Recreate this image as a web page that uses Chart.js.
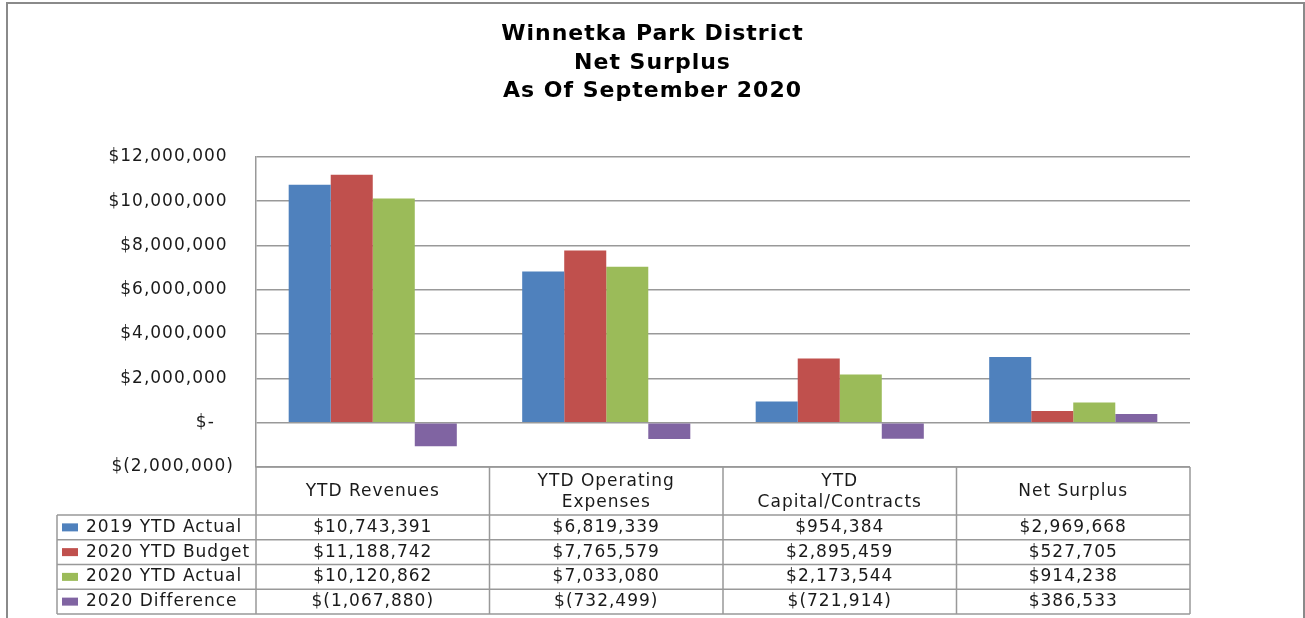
<html>
  <head>
    <script src="https://cdn.jsdelivr.net/npm/chart.js@4.4.0/dist/chart.umd.min.js"></script>
    <style>
      body { margin: 0; background: #fff; }
      #wrap { position: relative; width: 1305px; height: 618px; }
    </style>
  </head>
  <body>
    <div id="wrap"><canvas id="surplusChart"></canvas></div>
    <script>
      var categories = [
        ["YTD Revenues"],
        ["YTD Operating", "Expenses"],
        ["YTD", "Capital/Contracts"],
        ["Net Surplus"],
      ];
      var seriesNames = ["2019 YTD Actual", "2020 YTD Budget", "2020 YTD Actual", "2020 Difference"];
      var actual2019 = [10743391, 6819339, 954384, 2969668];
      var budget2020 = [11188742, 7765579, 2895459, 527705];
      var actual2020 = [10120862, 7033080, 2173544, 914238];
      var difference2020 = [-1067880, -732499, -721914, 386533];
      var yTicks = [-2000000, 0, 2000000, 4000000, 6000000, 8000000, 10000000, 12000000];

      var colors = ["#4f81bd", "#c0504d", "#9bbb59", "#8064a2"];
      var lineGray = "#999999";
      var fontFamily = "'DejaVu Sans', sans-serif";

      const money = (v) => {
        var s = Math.abs(v).toLocaleString("en-US");
        return v < 0 ? "$(" + s + ")" : "$" + s;
      };

      const tableRows = [actual2019, budget2020, actual2020, difference2020];

      // draws the outer frame plus the data table below the plot
      var tablePlugin = {
        id: "dataTable",
        beforeDraw(chart) {
          var ctx = chart.ctx;
          ctx.save();
          ctx.strokeStyle = "#8a8a8a";
          ctx.lineWidth = 2;
          ctx.strokeRect(7, 3, 1297, 640);
          ctx.restore();
          // the original text is set wide, spread letters a bit
          ctx.letterSpacing = "1px";
        },
        afterDraw(chart) {
          var ctx = chart.ctx;
          var a = chart.chartArea;
          var colW = (a.right - a.left) / categories.length;
          var headBottom = a.bottom + 48;
          var rowH = 24.75;
          var legLeft = 57;
          ctx.save();
          ctx.strokeStyle = lineGray;
          ctx.lineWidth = 1.5;
          ctx.beginPath();
          ctx.moveTo(a.left, a.bottom);
          ctx.lineTo(a.right, a.bottom);
          for (var r = 0; r <= tableRows.length; r++) {
            var y = headBottom + r * rowH;
            ctx.moveTo(legLeft, y);
            ctx.lineTo(a.right, y);
          }
          var tableBottom = headBottom + tableRows.length * rowH;
          for (var c = 0; c <= categories.length; c++) {
            var x = a.left + c * colW;
            ctx.moveTo(x, a.bottom);
            ctx.lineTo(x, tableBottom);
          }
          ctx.moveTo(legLeft, headBottom);
          ctx.lineTo(legLeft, tableBottom);
          ctx.stroke();

          ctx.letterSpacing = "1px";
          ctx.fillStyle = "#1a1a1a";
          ctx.font = "17px " + fontFamily;
          ctx.textAlign = "center";
          ctx.textBaseline = "middle";
          categories.forEach((lines, i) => {
            var cx = chart.scales.x.getPixelForValue(i);
            var midY = (a.bottom + headBottom) / 2 + 1;
            lines.forEach((ln, j) => {
              ctx.fillText(ln, cx, midY + (j - (lines.length - 1) / 2) * 21);
            });
          });
          tableRows.forEach((vals, r) => {
            var cy = headBottom + r * rowH + rowH / 2;
            vals.forEach((v, i) => {
              ctx.textAlign = "center";
              ctx.fillText(money(v), chart.scales.x.getPixelForValue(i), cy);
            });
            ctx.fillStyle = colors[r];
            ctx.fillRect(62, cy - 4, 16, 8);
            ctx.fillStyle = "#1a1a1a";
            ctx.textAlign = "left";
            ctx.fillText(seriesNames[r], 86, cy);
          });
          ctx.restore();
        },
      };

      var ctx = document.getElementById("surplusChart").getContext("2d");
      var myChart = new Chart(ctx, {
        type: "bar",
        data: {
          labels: categories,
          datasets: [actual2019, budget2020, actual2020, difference2020].map((d, i) => ({
            label: seriesNames[i],
            data: d,
            backgroundColor: colors[i],
            borderWidth: 0,
            barPercentage: 1,
            categoryPercentage: 0.72,
          })),
        },
        options: {
          responsive: true,
          maintainAspectRatio: false,
          animation: false,
          layout: { padding: 0 },
          plugins: {
            legend: { display: false },
            tooltip: { enabled: false },
            title: {
              display: true,
              text: ["Winnetka Park District", "Net Surplus", "As Of September 2020"],
              color: "#000",
              font: { family: fontFamily, size: 22, weight: "bold", lineHeight: 1.3 },
              padding: { top: 20, bottom: 51 },
            },
          },
          scales: {
            x: {
              ticks: { display: false },
              grid: { display: false },
              border: { display: false },
              afterFit: (scale) => { scale.height = 151; },
            },
            y: {
              min: -2000000,
              max: 12000000,
              afterBuildTicks: (scale) => { scale.ticks = yTicks.map((v) => ({ value: v })); },
              afterFit: (scale) => { scale.width = 256; },
              ticks: {
                color: "#1a1a1a",
                padding: 22,
                font: { family: fontFamily, size: 17 },
                callback: (v) => (v === 0 ? "$-   " : v < 0 ? money(v) : money(v) + " "),
              },
              grid: { color: lineGray, lineWidth: 1.5, drawTicks: false },
              border: { color: lineGray, width: 1.5 },
            },
            // empty right axis that only keeps the space right of the plot
            yRight: {
              position: "right",
              display: true,
              ticks: { display: false },
              grid: { display: false },
              border: { display: false },
              afterFit: (scale) => { scale.width = 115; },
            },
          },
        },
        plugins: [tablePlugin],
      });
    </script>
  </body>
</html>
